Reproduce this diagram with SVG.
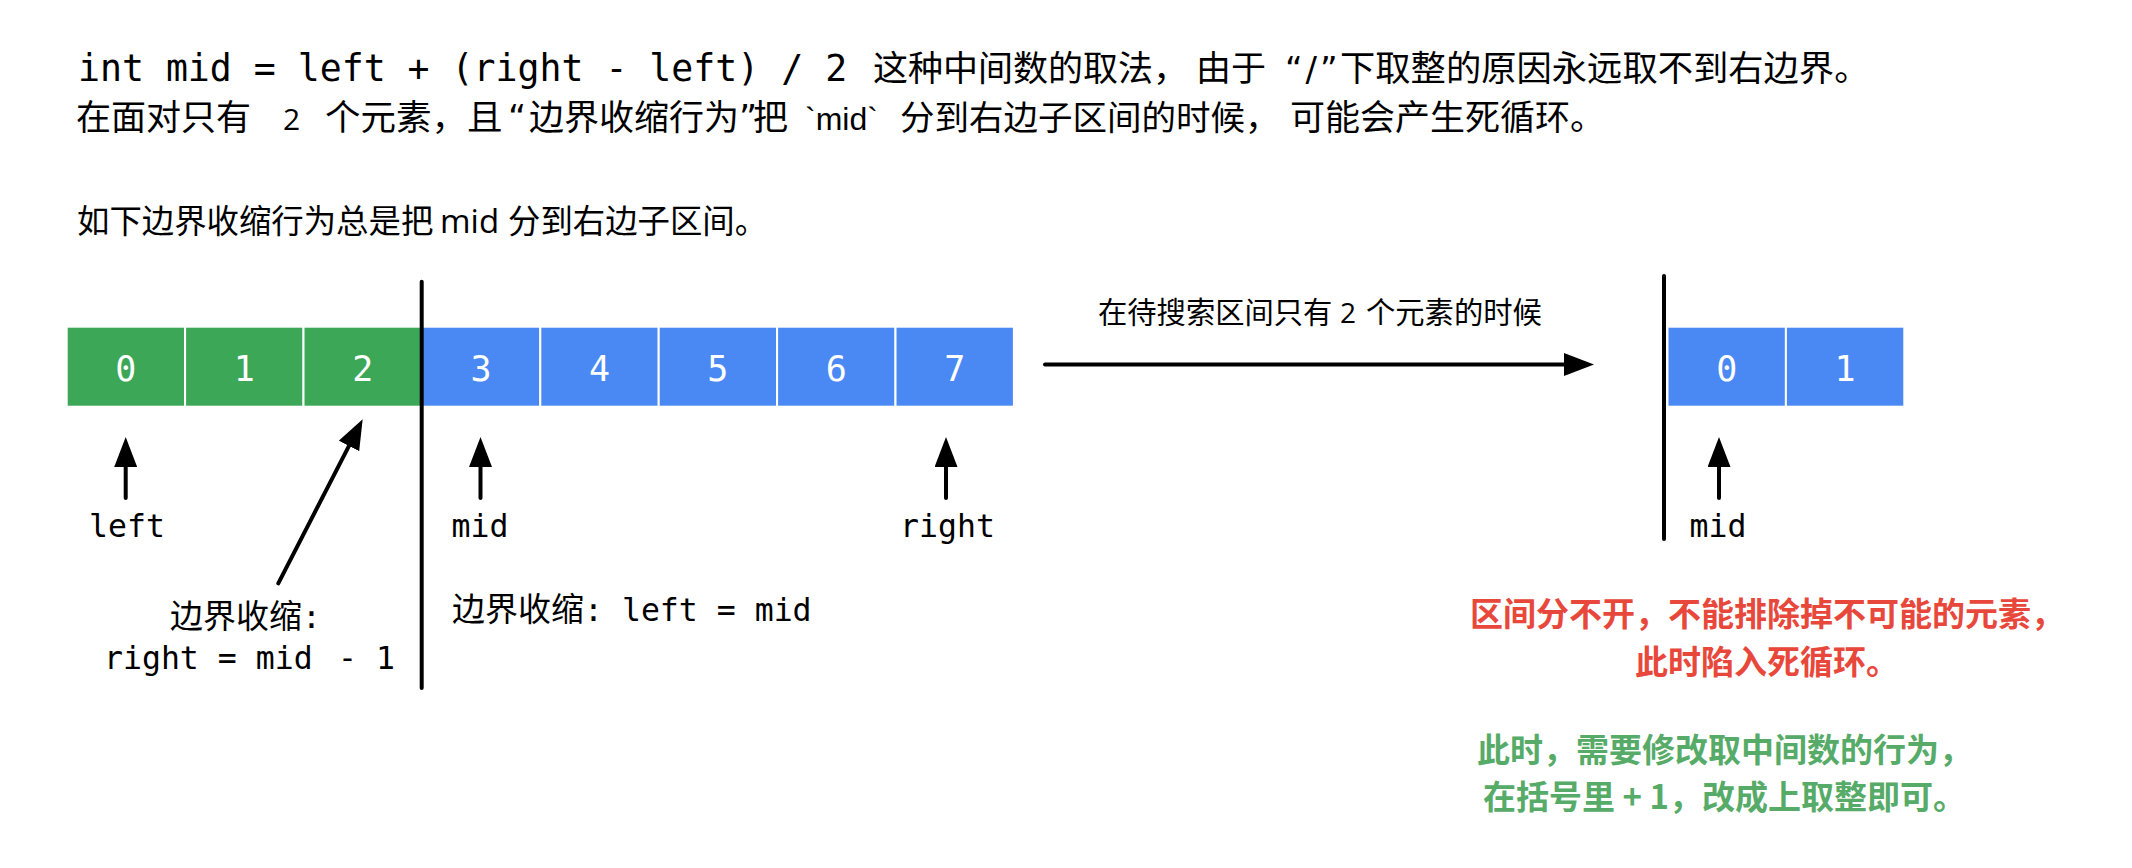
<svg xmlns="http://www.w3.org/2000/svg" width="2132" height="868" viewBox="0 0 2132 868">
<style>
.bg{fill:#fff}
.mono{font-family:"DejaVu Sans Mono","Liberation Mono","Noto Sans CJK SC",monospace;fill:#000}
.cjk{font-family:"Noto Sans CJK SC","Noto Sans",sans-serif;fill:#000}
.lat{font-family:"Open Sans","Noto Sans",sans-serif;fill:#000}
.ls{font-family:"Liberation Sans",Arial,sans-serif;fill:#000}
.q{font-family:"DejaVu Sans",sans-serif;fill:#000}
.cell-g{fill:#3BA757;stroke:#fff;stroke-width:2}
.cell-b{fill:#4A89F3;stroke:#fff;stroke-width:2}
.num{font-family:"DejaVu Sans Mono","Liberation Mono",monospace;font-size:35px;fill:#fff;text-anchor:middle}
.lbl{font-family:"DejaVu Sans Mono","Liberation Mono","Noto Sans CJK SC",monospace;font-size:31.5px;fill:#000}
.lc{font-family:"Noto Sans CJK SC",sans-serif;font-size:33px}
.mid{text-anchor:middle}
.arrow{stroke:#000;stroke-width:4;stroke-linecap:round;fill:none}
.bar{stroke:#000;stroke-width:4;stroke-linecap:round}
.red{font-family:"Noto Sans CJK SC",sans-serif;font-weight:bold;font-size:33px;fill:#E8483B;text-anchor:middle}
.green{font-family:"Noto Sans CJK SC",sans-serif;font-weight:bold;font-size:33px;fill:#57AB68;text-anchor:middle}
</style>
<defs>
<marker id="ah" markerUnits="userSpaceOnUse" markerWidth="30" markerHeight="23" viewBox="0 0 30 23" refX="15" refY="11.5" orient="auto">
<path d="M0,0 L30,11.5 L0,23 z" fill="#000"/>
</marker>
</defs>
<rect class="bg" x="0" y="0" width="2132" height="868"/>

<g id="title">
<text y="81" font-size="35"><tspan class="mono" x="78" font-size="36.5">int mid = left + (right - left) / 2</tspan><tspan class="cjk" x="873">这种中间数的取法，</tspan><tspan class="cjk" x="1196">由于</tspan><tspan class="q" x="1285" font-size="34" letter-spacing="3">“/”</tspan><tspan class="cjk" x="1340" font-size="35.3">下取整的原因永远取不到右边界。</tspan></text>
<text y="130" font-size="35"><tspan class="cjk" x="76">在面对只有 </tspan><tspan class="lat" x="283" font-size="30">2 </tspan><tspan class="cjk" x="325" font-size="35.5">个元素，且</tspan><tspan class="q" x="508">“</tspan><tspan class="cjk" x="529">边界收缩行为</tspan><tspan class="q" x="739">”</tspan><tspan class="cjk" x="753">把 </tspan><tspan class="ls" x="805" font-size="32">`mid` </tspan><tspan class="cjk" x="900" font-size="34.5">分到右边子区间的时候，</tspan><tspan class="cjk" x="1290" font-size="35">可能会产生死循环。</tspan></text>
<text y="233" font-size="32.4"><tspan class="cjk" x="77">如下边界收缩行为总是把 </tspan><tspan class="lat" x="440" font-size="33">mid </tspan><tspan class="cjk" x="508">分到右边子区间。</tspan></text>
</g>

<g id="array-left">
<g id="cell-0"><rect class="cell-g" x="66.7" y="326.7" width="118.4" height="80"/><text class="num" x="125.9" y="380.7">0</text></g>
<g id="cell-1"><rect class="cell-g" x="185.1" y="326.7" width="118.4" height="80"/><text class="num" x="244.3" y="380.7">1</text></g>
<g id="cell-2"><rect class="cell-g" x="303.5" y="326.7" width="118.4" height="80"/><text class="num" x="362.7" y="380.7">2</text></g>
<g id="cell-3"><rect class="cell-b" x="421.9" y="326.7" width="118.4" height="80"/><text class="num" x="481.1" y="380.7">3</text></g>
<g id="cell-4"><rect class="cell-b" x="540.3" y="326.7" width="118.4" height="80"/><text class="num" x="599.5" y="380.7">4</text></g>
<g id="cell-5"><rect class="cell-b" x="658.7" y="326.7" width="118.4" height="80"/><text class="num" x="717.9" y="380.7">5</text></g>
<g id="cell-6"><rect class="cell-b" x="777.1" y="326.7" width="118.4" height="80"/><text class="num" x="836.3" y="380.7">6</text></g>
<g id="cell-7"><rect class="cell-b" x="895.5" y="326.7" width="118.4" height="80"/><text class="num" x="954.7" y="380.7">7</text></g>
</g>

<g id="array-right">
<g id="rcell-0"><rect class="cell-b" x="1667.5" y="326.7" width="118.4" height="80"/><text class="num" x="1726.7" y="380.7">0</text></g>
<g id="rcell-1"><rect class="cell-b" x="1785.9" y="326.7" width="118.4" height="80"/><text class="num" x="1845.1" y="380.7">1</text></g>
</g>

<g id="dividers">
<line class="bar" x1="421.7" y1="281.7" x2="421.7" y2="688"/>
<line class="bar" x1="1664" y1="276" x2="1664" y2="539"/>
</g>

<g id="connectors">
<path class="arrow" d="M125.7,498 L125.7,452" marker-end="url(#ah)"/>
<path class="arrow" d="M278.3,583.3 L355.8,432.6" marker-end="url(#ah)"/>
<path class="arrow" d="M480.5,498 L480.5,452" marker-end="url(#ah)"/>
<path class="arrow" d="M946,498 L946,452" marker-end="url(#ah)"/>
<path class="arrow" d="M1045,364.5 L1579,364.5" marker-end="url(#ah)"/>
<path class="arrow" d="M1719,498 L1719,452" marker-end="url(#ah)"/>
</g>

<g id="labels">
<text class="lbl mid" x="127" y="537">left</text>
<text class="lbl mid" x="480" y="537">mid</text>
<text class="lbl mid" x="947.5" y="537">right</text>
<text class="lbl mid" x="1718" y="537">mid</text>
<text class="lbl" x="170" y="628"><tspan class="lc">边界收缩</tspan>:</text>
<text class="lbl" y="669"><tspan x="104">right = mid </tspan><tspan x="338">- 1</tspan></text>
<text class="lbl" x="452" y="621"><tspan class="lc">边界收缩</tspan>: left = mid</text>
<text y="323" font-size="29.3"><tspan class="cjk" x="1098">在待搜索区间只有 </tspan><tspan class="lat" x="1340" font-size="28">2 </tspan><tspan class="cjk" x="1366">个元素的时候</tspan></text>
</g>

<g id="notes">
<text class="red" x="1767" y="626">区间分不开，不能排除掉不可能的元素，</text>
<text class="red" x="1767" y="674">此时陷入死循环。</text>
<text class="green" x="1724.5" y="762">此时，需要修改取中间数的行为，</text>
<text class="green" x="1724.5" y="809">在括号里 + 1，改成上取整即可。</text>
</g>
</svg>
